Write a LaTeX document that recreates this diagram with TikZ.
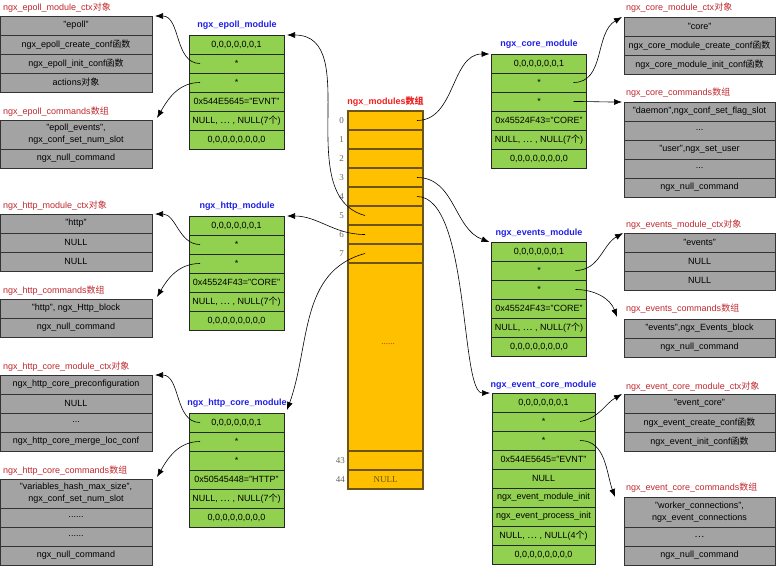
\documentclass[tikz,border=0pt]{standalone}
\usepackage{fontspec}
\setmainfont{Liberation Sans}
\newfontfamily\cjk{Noto Sans CJK SC}
\newfontfamily\serifnum{Liberation Serif}
\usetikzlibrary{positioning}
\usetikzlibrary{arrows.meta}
\definecolor{cellgreen}{HTML}{92D050}
\definecolor{cellgrey}{HTML}{A3A3A3}
\definecolor{cellorange}{HTML}{FFC000}
\definecolor{linebrown}{HTML}{6B5414}
\definecolor{titlered}{HTML}{C0272D}
\definecolor{modred}{HTML}{F01E1E}
\definecolor{titleblue}{HTML}{1E1EE6}
\newcommand{\zh}[1]{{\cjk #1}}

\begin{document}
\begin{tikzpicture}[x=1pt,y=-1pt]
\tikzstyle{cell}=[draw,shape=rectangle,inner sep=0pt,outer sep=0pt,minimum height=19pt,line width=0.8pt,align=center,font=\fontsize{9}{12}\selectfont];
\tikzstyle{gmod}=[cell,fill=cellgreen,draw=black!85,minimum width=95pt];
\tikzstyle{lbox}=[cell,fill=cellgrey,draw=black!80,minimum width=152pt];
\tikzstyle{rbox}=[lbox,minimum width=151pt];
\tikzstyle{slot}=[cell,fill=cellorange,draw=linebrown,line width=1.2pt,minimum width=75pt,text=linebrown,font=\serifnum\fontsize{9}{12}\selectfont];
\tikzstyle{idx}=[inner sep=0pt,text=black!60,font=\serifnum\fontsize{9}{12}\selectfont];
\tikzstyle{mtitle}=[inner sep=0pt,text=titleblue,font=\bfseries\fontsize{9}{10}\selectfont];
\tikzstyle{otitle}=[inner sep=0pt,anchor=west,text=titlered,font=\fontsize{9}{10}\selectfont];
\tikzstyle{ptr}=[-{Latex[length=8pt,width=6pt]},black,line width=0.6pt];
\useasboundingbox (0,0) rectangle (776,565);
% ngx_modules array
\node[inner sep=0pt,text=modred,font=\bfseries\fontsize{9}{10}\selectfont](mt) at (385.5,102) {ngx\_modules\zh{数组}};
\node[slot](m0) at (385.5,120.5) {};
\node[slot,below=0pt of m0](m1) {};
\node[slot,below=0pt of m1](m2) {};
\node[slot,below=0pt of m2](m3) {};
\node[slot,below=0pt of m3](m4) {};
\node[slot,below=0pt of m4](m5) {};
\node[slot,below=0pt of m5](m6) {};
\node[slot,below=0pt of m6](m7) {};
\node[slot,below=0pt of m7,minimum height=188pt](mdots) {};
\node[slot,below=0pt of mdots](m43) {};
\node[slot,below=0pt of m43](m44) {NULL};
\node[inner sep=0pt,text=titlered,font=\serifnum\fontsize{9}{10}\selectfont](mdt) at (388,344) {......};
\node[idx,left=4pt of m0](i0) {0};
\node[idx,left=4pt of m1](i1) {1};
\node[idx,left=4pt of m2](i2) {2};
\node[idx,left=4pt of m3](i3) {3};
\node[idx,left=4pt of m4](i4) {4};
\node[idx,left=4pt of m5](i5) {5};
\node[idx,left=4pt of m6](i6) {6};
\node[idx,left=4pt of m7](i7) {7};
\node[idx,left=3pt of m43](i43) {43};
\node[idx,left=3pt of m44](i44) {44};
% ngx_epoll_module
\node[mtitle](epmt) at (237,25) {ngx\_epoll\_module};
\node[gmod](epm1) at (236.5,44.5) {0,0,0,0,0,0,1};
\node[gmod,below=0pt of epm1](epm2) {*};
\node[gmod,below=0pt of epm2](epm3) {*};
\node[gmod,below=0pt of epm3](epm4) {0x544E5645="EVNT"};
\node[gmod,below=0pt of epm4](epm5) {NULL, \zh{⋯} , NULL(7\zh{个})};
\node[gmod,below=0pt of epm5](epm6) {0,0,0,0,0,0,0,0};
\node[otitle](epct) at (3,8) {ngx\_epoll\_module\_ctx\zh{对象}};
\node[lbox](epc1) at (76,25.5) {"epoll"};
\node[lbox,below=0pt of epc1](epc2) {ngx\_epoll\_create\_conf\zh{函数}};
\node[lbox,below=0pt of epc2](epc3) {ngx\_epoll\_init\_conf\zh{函数}};
\node[lbox,below=0pt of epc3](epc4) {actions\zh{对象}};
\node[otitle](epdt) at (3,112) {ngx\_epoll\_commands\zh{数组}};
\node[lbox,minimum height=29pt](epd1) at (76,134.5) {"epoll\_events",\\ngx\_conf\_set\_num\_slot};
\node[lbox,below=0pt of epd1](epd2) {ngx\_null\_command};
% ngx_http_module
\node[mtitle](htmt) at (237,206) {ngx\_http\_module};
\node[gmod](htm1) at (236.5,225.5) {0,0,0,0,0,0,1};
\node[gmod,below=0pt of htm1](htm2) {*};
\node[gmod,below=0pt of htm2](htm3) {*};
\node[gmod,below=0pt of htm3](htm4) {0x45524F43="CORE"};
\node[gmod,below=0pt of htm4](htm5) {NULL, \zh{⋯} , NULL(7\zh{个})};
\node[gmod,below=0pt of htm5](htm6) {0,0,0,0,0,0,0,0};
\node[otitle](htct) at (3,206) {ngx\_http\_module\_ctx\zh{对象}};
\node[lbox](htc1) at (76,223.5) {"http"};
\node[lbox,below=0pt of htc1](htc2) {NULL};
\node[lbox,below=0pt of htc2](htc3) {NULL};
\node[otitle](htdt) at (3,291) {ngx\_http\_commands\zh{数组}};
\node[lbox](htd1) at (76,308.5) {"http", ngx\_Http\_block};
\node[lbox,below=0pt of htd1](htd2) {ngx\_null\_command};
% ngx_http_core_module
\node[mtitle](hcmt) at (237,403) {ngx\_http\_core\_module};
\node[gmod](hcm1) at (236.5,422.5) {0,0,0,0,0,0,1};
\node[gmod,below=0pt of hcm1](hcm2) {*};
\node[gmod,below=0pt of hcm2](hcm3) {*};
\node[gmod,below=0pt of hcm3](hcm4) {0x50545448="HTTP"};
\node[gmod,below=0pt of hcm4](hcm5) {NULL, \zh{⋯} , NULL(7\zh{个})};
\node[gmod,below=0pt of hcm5](hcm6) {0,0,0,0,0,0,0,0};
\node[otitle](hcct) at (3,367) {ngx\_http\_core\_module\_ctx\zh{对象}};
\node[lbox](hcc1) at (76,384.5) {ngx\_http\_core\_preconfiguration};
\node[lbox,below=0pt of hcc1](hcc2) {NULL};
\node[lbox,below=0pt of hcc2](hcc3) {...};
\node[lbox,below=0pt of hcc3](hcc4) {ngx\_http\_core\_merge\_loc\_conf};
\node[otitle](hcdt) at (3,471) {ngx\_http\_core\_commands\zh{数组}};
\node[lbox,minimum height=29pt](hcd1) at (76,493.5) {"variables\_hash\_max\_size",\\ngx\_conf\_set\_num\_slot};
\node[lbox,below=0pt of hcd1](hcd2) {......};
\node[lbox,below=0pt of hcd2](hcd3) {......};
\node[lbox,below=0pt of hcd3](hcd4) {ngx\_null\_command};
% ngx_core_module
\node[mtitle](comt) at (539,44) {ngx\_core\_module};
\node[gmod](com1) at (539,63.5) {0,0,0,0,0,0,1};
\node[gmod,below=0pt of com1](com2) {*};
\node[gmod,below=0pt of com2](com3) {*};
\node[gmod,below=0pt of com3](com4) {0x45524F43="CORE"};
\node[gmod,below=0pt of com4](com5) {NULL, \zh{⋯} , NULL(7\zh{个})};
\node[gmod,below=0pt of com5](com6) {0,0,0,0,0,0,0,0};
\node[otitle](coct) at (626,8) {ngx\_core\_module\_ctx\zh{对象}};
\node[rbox](coc1) at (699.5,26.5) {"core"};
\node[rbox,below=0pt of coc1](coc2) {ngx\_core\_module\_create\_conf\zh{函数}};
\node[rbox,below=0pt of coc2](coc3) {ngx\_core\_module\_init\_conf\zh{函数}};
\node[otitle](codt) at (626,93) {ngx\_core\_commands\zh{数组}};
\node[rbox](cod1) at (699.5,111.5) {"daemon",ngx\_conf\_set\_flag\_slot};
\node[rbox,below=0pt of cod1](cod2) {...};
\node[rbox,below=0pt of cod2](cod3) {"user",ngx\_set\_user};
\node[rbox,below=0pt of cod3](cod4) {...};
\node[rbox,below=0pt of cod4](cod5) {ngx\_null\_command};
% ngx_events_module
\node[mtitle](evmt) at (539,233) {ngx\_events\_module};
\node[gmod](evm1) at (539,251.5) {0,0,0,0,0,0,1};
\node[gmod,below=0pt of evm1](evm2) {*};
\node[gmod,below=0pt of evm2](evm3) {*};
\node[gmod,below=0pt of evm3](evm4) {0x45524F43="CORE"};
\node[gmod,below=0pt of evm4](evm5) {NULL, \zh{⋯} , NULL(7\zh{个})};
\node[gmod,below=0pt of evm5](evm6) {0,0,0,0,0,0,0,0};
\node[otitle](evct) at (626,225) {ngx\_events\_module\_ctx\zh{对象}};
\node[rbox](evc1) at (699.5,242.5) {"events"};
\node[rbox,below=0pt of evc1](evc2) {NULL};
\node[rbox,below=0pt of evc2](evc3) {NULL};
\node[otitle](evdt) at (626,309) {ngx\_events\_commands\zh{数组}};
\node[rbox](evd1) at (699.5,328.5) {"events",ngx\_Events\_block};
\node[rbox,below=0pt of evd1](evd2) {ngx\_null\_command};
% ngx_event_core_module
\node[mtitle](ecmt) at (543.5,385) {ngx\_event\_core\_module};
\node[gmod,minimum width=103pt](ecm1) at (543.5,402.5) {0,0,0,0,0,0,1};
\node[gmod,minimum width=103pt,below=0pt of ecm1](ecm2) {*};
\node[gmod,minimum width=103pt,below=0pt of ecm2](ecm3) {*};
\node[gmod,minimum width=103pt,below=0pt of ecm3](ecm4) {0x544E5645="EVNT"};
\node[gmod,minimum width=103pt,below=0pt of ecm4](ecm5) {NULL};
\node[gmod,minimum width=103pt,below=0pt of ecm5](ecm6) {ngx\_event\_module\_init};
\node[gmod,minimum width=103pt,below=0pt of ecm6](ecm7) {ngx\_event\_process\_init};
\node[gmod,minimum width=103pt,below=0pt of ecm7](ecm8) {NULL, \zh{⋯} , NULL(4\zh{个})};
\node[gmod,minimum width=103pt,below=0pt of ecm8](ecm9) {0,0,0,0,0,0,0,0};
\node[otitle](ecct) at (626,387) {ngx\_event\_core\_module\_ctx\zh{对象}};
\node[rbox](ecc1) at (699.5,403.5) {"event\_core"};
\node[rbox,below=0pt of ecc1](ecc2) {ngx\_event\_create\_conf\zh{函数}};
\node[rbox,below=0pt of ecc2](ecc3) {ngx\_event\_init\_conf\zh{函数}};
\node[otitle](ecdt) at (626,488) {ngx\_event\_core\_commands\zh{数组}};
\node[rbox,minimum height=30pt](ecd1) at (699.5,512) {"worker\_connections",\\ngx\_event\_connections};
\node[rbox,below=0pt of ecd1](ecd2) {\zh{⋯}};
\node[rbox,below=0pt of ecd2](ecd3) {ngx\_null\_command};
% pointers
\coordinate (s0) at ([xshift=-6pt]m0.east);
\coordinate (s3) at ([xshift=-6pt]m3.east);
\coordinate (s4) at ([xshift=-6pt]m4.east);
\coordinate (s5) at ([xshift=17pt]m5.west);
\coordinate (s6) at ([xshift=17pt]m6.west);
\coordinate (s7) at ([xshift=17pt]m7.west);
\draw[ptr](s0) to[out=0,in=180] ([xshift=-2pt]com1.north west);
\draw[ptr](s3) to[out=0,in=160] ([xshift=-2pt]evm1.north west);
\draw[ptr](s4) .. controls +(53,0) and +(-30,0) .. ([xshift=-2pt]ecm1.north west);
\draw[ptr](s5) to[out=165,in=0] ([xshift=3pt]epm1.north east);
\draw[ptr](s6) to[out=180,in=0] ([xshift=3pt]htm1.north east);
\draw[ptr](s7) to[out=195,in=70] ([xshift=3pt,yshift=3pt]hcm1.north east);
\draw[ptr]([xshift=11pt]epm2.west) to[out=180,in=0] ([xshift=3pt]epc1.north east);
\draw[ptr]([xshift=11pt]epm3.west) to[out=180,in=60] ([xshift=5pt,yshift=2pt]epd1.north east);
\draw[ptr]([xshift=11pt]htm2.west) to[out=180,in=0] ([xshift=3pt]htc1.north east);
\draw[ptr]([xshift=11pt]htm3.west) to[out=180,in=60] ([xshift=5pt,yshift=2pt]htd1.north east);
\draw[ptr]([xshift=11pt]hcm1.west) to[out=180,in=0] ([xshift=3pt]hcc1.north east);
\draw[ptr]([xshift=11pt]hcm2.west) to[out=180,in=60] ([xshift=5pt,yshift=2pt]hcd1.north east);
\draw[ptr]([xshift=-13pt]com2.east) to[out=0,in=210] ([xshift=-2pt]coc1.north west);
\draw[ptr]([xshift=-13pt]com3.east) to[out=0,in=180] ([xshift=-2pt]cod1.north west);
\draw[ptr]([xshift=-11pt]evm2.east) to[out=0,in=210] ([xshift=-1pt]evc1.north west);
\draw[ptr]([xshift=-11pt]evm3.east) to[out=0,in=110] ([xshift=-7pt,yshift=2pt]evd1.north west);
\draw[ptr]([xshift=-15pt]ecm2.east) to[out=10,in=210] ([xshift=-2pt]ecc1.north west);
\draw[ptr]([xshift=-15pt]ecm3.east) to[out=0,in=110] ([xshift=-9pt]ecd1.north west);
\end{tikzpicture}
\end{document}
